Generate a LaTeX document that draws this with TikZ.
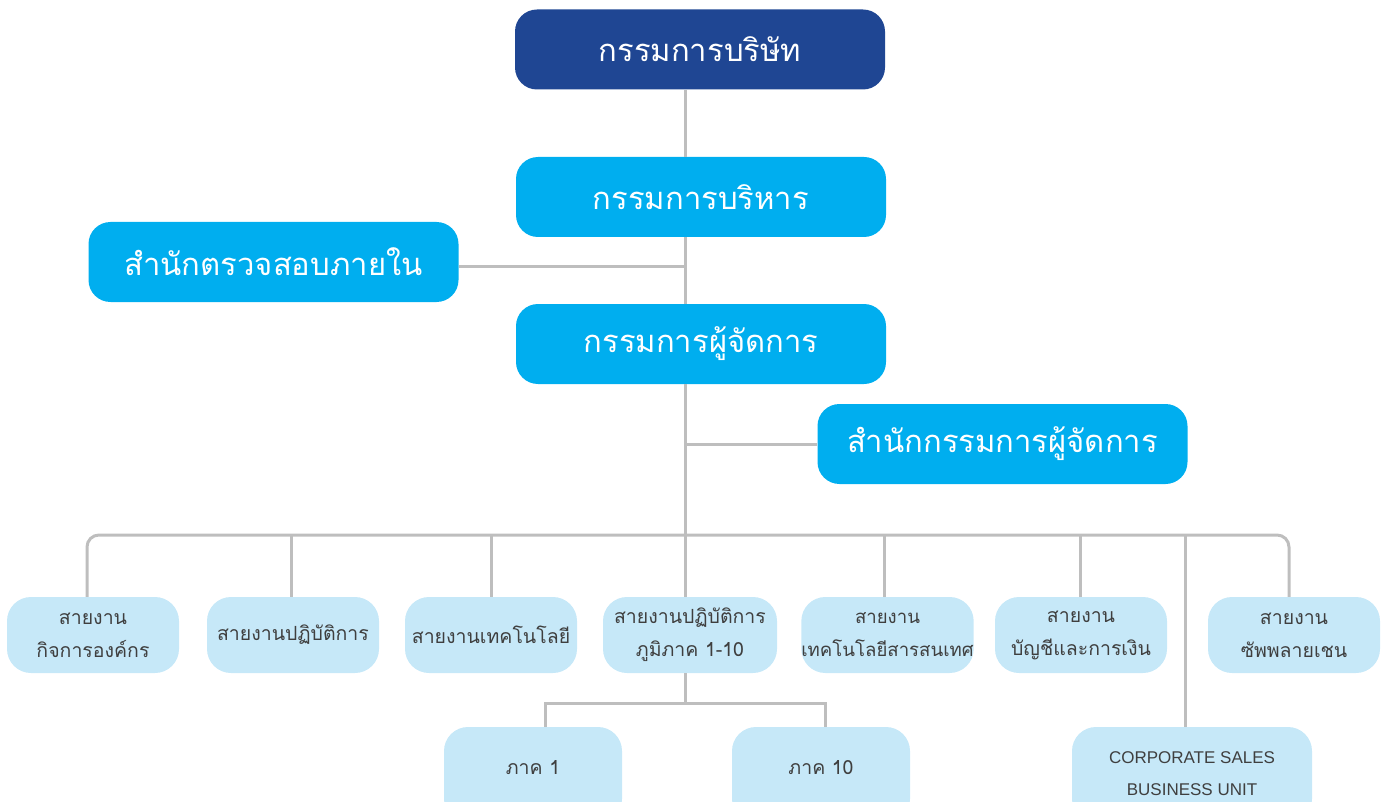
\documentclass[tikz,border=0pt]{standalone}
\usepackage{fontspec}
\setmainfont{Liberation Sans}
\newfontfamily\thaifont[Script=Thai]{Loma}
\usepackage{tikz}

\definecolor{boardblue}{HTML}{1F4693}
\definecolor{execblue}{HTML}{00AEEF}
\definecolor{unitblue}{HTML}{C6E8F8}
\definecolor{linegray}{HTML}{BEBEBE}
\definecolor{textgray}{HTML}{3F3F3F}

\tikzset{
  topbox/.style={rectangle,rounded corners=22pt,minimum width=370pt,minimum height=80pt,
    text=white,font=\thaifont\fontsize{31}{36}\selectfont,inner sep=0pt},
  unitbox/.style={rectangle,rounded corners=24pt,fill=unitblue,minimum width=172pt,
    minimum height=76pt,text=textgray,align=center,inner sep=0pt,
    font=\thaifont\fontsize{19.5}{33}\selectfont},
  lowbox/.style={unitbox,minimum width=178pt,minimum height=96pt},
  link/.style={draw=linegray,line width=3pt}
}

\begin{document}
\begin{tikzpicture}[x=1pt,y=-1pt]
  \useasboundingbox (0,0) rectangle (1381,802);
  % top of the chart
  \node(board)[topbox,fill=boardblue] at (700,49.5){กรรมการบริษัท};
  \node(exec)[topbox,fill=execblue] at (701,197){กรรมการบริหาร};
  \node(audit)[topbox,fill=execblue] at (273.5,262){สำนักตรวจสอบภายใน};
  \node(md)[topbox,fill=execblue] at (701,344){กรรมการผู้จัดการ};
  \node(mdoffice)[topbox,fill=execblue] at (1002.5,444){สำนักกรรมการผู้จัดการ};
  % business units
  \node(corp)[unitbox] at (93,635){สายงาน\\กิจการองค์กร};
  \node(ops)[unitbox] at (293,635){สายงานปฏิบัติการ};
  \node(tech)[unitbox] at (491,635){สายงานเทคโนโลยี};
  \node(region)[unitbox,minimum width=174pt] at (690,635){สายงานปฏิบัติการ\\ภูมิภาค 1-10};
  \node(ict)[unitbox,minimum width=171pt,font=\thaifont\fontsize{18.6}{33}\selectfont] at (887.5,635){สายงาน\\เทคโนโลยีสารสนเทศ};
  \node(fin)[unitbox] at (1081,635){สายงาน\\บัญชีและการเงิน};
  \node(supply)[unitbox] at (1294,635){สายงาน\\ซัพพลายเชน};
  \node(r1)[lowbox] at (533,775){\raisebox{15pt}{ภาค 1}};
  \node(r10)[lowbox] at (821,775){\raisebox{15pt}{ภาค 10}};
  \node(sales)[lowbox,minimum width=240pt,font=\fontsize{17}{31}\selectfont] at (1192,775){\raisebox{3pt}{CORPORATE SALES}\\\raisebox{2pt}{BUSINESS UNIT}};
  % connectors
  \coordinate(bus) at (685,535);
  \coordinate(sub) at (685,703);
  \draw[link] (board.south -| bus) -- (exec.north -| bus);
  \draw[link] (exec.south -| bus) -- (md.north -| bus);
  \draw[link] (audit.east |- 0,267) -- (bus |- 0,267);
  \draw[link] (md.south -| bus) -- (bus);
  \draw[link] (mdoffice.west -| bus) -- (mdoffice.west);
  \draw[link,rounded corners=12pt] (corp.north -| 87,0) -- (87,535) -- (1289,535) -- (supply.north -| 1289,0);
  \foreach \unit/\px in {ops/291,tech/491,region/685,ict/884,fin/1080}
    \draw[link] (\px,535) -- (\unit.north -| \px,0);
  \draw[link] (1185,535) -- (sales.north -| 1185,0);
  \draw[link] (region.south -| sub) -- (sub);
  \draw[link] (r1.north -| 545,0) -- (545,703) -- (825,703) -- (r10.north -| 825,0);
\end{tikzpicture}
\end{document}
